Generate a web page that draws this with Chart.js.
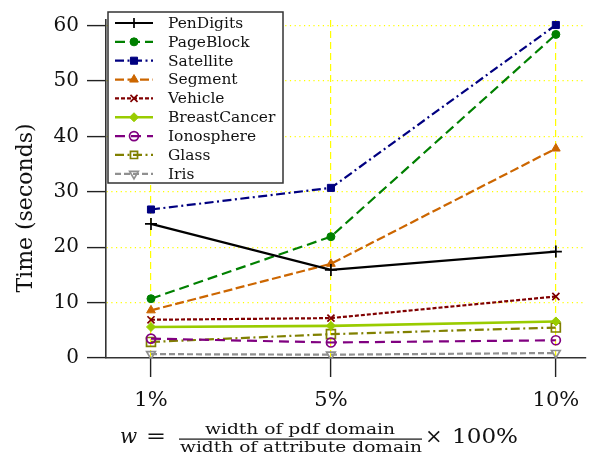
<!DOCTYPE html>
<html>
<head>
<meta charset="utf-8">
<script src="https://cdn.jsdelivr.net/npm/chart.js@4/dist/chart.umd.min.js"></script>
<style>
  html,body{margin:0;padding:0;background:#fff;}
  #wrap{width:596px;height:458px;position:relative;}
</style>
</head>
<body>
<div id="wrap"><canvas id="c"></canvas></div>
<script>
// x positions (percent) and their labels
const xValues = [1, 5, 10];
const xLabels = ['1%', '5%', '10%'];
const yTicks = [0, 10, 20, 30, 40, 50, 60];

// time in seconds, one value per x position
const penDigits    = [24.2, 15.9, 19.2];
const pageBlock    = [10.7, 21.9, 58.4];
const satellite    = [26.8, 30.7, 60.1];
const segment      = [8.6, 17.0, 37.8];
const vehicle      = [6.9, 7.2, 11.1];
const breastCancer = [5.6, 5.8, 6.6];
const ionosphere   = [3.5, 2.8, 3.2];
const glass        = [2.9, 4.3, 5.5];
const iris         = [0.7, 0.6, 0.9];

const serif = '"DejaVu Serif", "Liberation Serif", serif';

function pts(arr){ return arr.map((v,i)=>({x:xValues[i], y:v})); }

function ds(label, arr, color, dash, style, r, filled, rot){
  return {
    label, data: pts(arr),
    borderColor: color, borderWidth: 2.2, borderDash: dash,
    pointStyle: style, pointRadius: r, pointRotation: rot||0,
    pointBackgroundColor: filled ? color : 'rgba(0,0,0,0)',
    pointBorderColor: color, pointBorderWidth: filled ? 1 : 1.7,
    fill: false, tension: 0
  };
}

const datasets = [
  ds('PenDigits', penDigits, '#000000', [], 'cross', 6, false),
  ds('PageBlock', pageBlock, '#008000', [10,5], 'circle', 4, true),
  ds('Satellite', satellite, '#000080', [9,3.5,2,3.5], 'rect', 5, true),
  ds('Segment', segment, '#cc6600', [9,3.5], 'triangle', 5, true),
  ds('Vehicle', vehicle, '#800000', [4,2], 'crossRot', 5, false),
  ds('BreastCancer', breastCancer, '#99cc00', [], 'rectRot', 4.5, true),
  ds('Ionosphere', ionosphere, '#800080', [10,6], 'circle', 4.5, false),
  ds('Glass', glass, '#808000', [9,3.5,2,3.5], 'rect', 6.3, false),
  ds('Iris', iris, '#909090', [6,3], 'triangle', 5, false, 180)
];
datasets[5].borderWidth = 2.6;

// legend box, axis titles and the formula under the x axis
const extras = {
  id: 'extras',
  afterDraw(chart){
    const ctx = chart.ctx;
    // legend
    const bx = 108, by = 12, bw = 175, bh = 171, rowH = 18.85;
    ctx.save();
    ctx.fillStyle = '#fff';
    ctx.fillRect(bx, by, bw, bh);
    ctx.strokeStyle = '#333'; ctx.lineWidth = 1.5;
    ctx.strokeRect(bx, by, bw, bh);
    ctx.font = '15px ' + serif;
    ctx.textBaseline = 'middle';
    chart.data.datasets.forEach((d,i)=>{
      const y = by + 11 + i*rowH;
      ctx.strokeStyle = d.borderColor; ctx.lineWidth = d.borderWidth;
      ctx.setLineDash(d.borderDash);
      ctx.beginPath(); ctx.moveTo(115, y); ctx.lineTo(153, y); ctx.stroke();
      ctx.setLineDash([]);
      ctx.fillStyle = d.pointBackgroundColor; ctx.strokeStyle = d.pointBorderColor;
      ctx.lineWidth = d.pointBorderWidth;
      Chart.helpers.drawPoint(ctx, {pointStyle:d.pointStyle, radius:Math.min(d.pointRadius,5), rotation:d.pointRotation, borderWidth:d.pointBorderWidth}, 134, y);
      ctx.fillStyle = '#111';
      fitText(ctx, d.label, 168, y + 1, ctx.measureText(d.label).width * 1.03);
    });
    // y title
    ctx.translate(26, 208); ctx.rotate(-Math.PI/2);
    ctx.font = '22px ' + serif; ctx.textAlign = 'center'; ctx.fillStyle = '#111';
    ctx.fillText('Time (seconds)', 0, 0);
    ctx.restore();

    // x title: w = fraction × 100%
    ctx.save();
    ctx.fillStyle = '#111'; ctx.textBaseline = 'alphabetic';
    ctx.font = 'italic 20px ' + serif;
    ctx.fillText('w', 120, 443);
    ctx.font = '21px ' + serif;
    fitText(ctx, '=', 146, 443, 20);
    ctx.font = '15px ' + serif; ctx.textAlign = 'center';
    fitText(ctx, 'width of pdf domain', 300, 434, 190);
    fitText(ctx, 'width of attribute domain', 301, 452, 242);
    ctx.fillRect(179, 438.5, 243, 1.2);
    ctx.textAlign = 'left';
    ctx.font = '21px ' + serif;
    ctx.fillText('×', 425, 443);
    fitText(ctx, '100%', 452, 443, 66);
    ctx.restore();
  }
};

function fitText(ctx, txt, x, y, w){
  const m = ctx.measureText(txt).width;
  ctx.save();
  ctx.translate(x, y); ctx.scale(w/m, 1);
  ctx.fillText(txt, 0, 0);
  ctx.restore();
}

new Chart(document.getElementById('c'), {
  type: 'line',
  data: { datasets },
  options: {
    responsive: true, maintainAspectRatio: false, animation: false,
    layout: { padding: { top: 12, right: 10, left: 0, bottom: 0 } },
    plugins: { legend: { display: false }, tooltip: { enabled: false } },
    scales: {
      x: {
        type: 'linear', min: 0, max: 10.67,
        afterBuildTicks: s => { s.ticks = xValues.map(v=>({value:v})); },
        afterFit: s => { s.height = 100; },
        ticks: { font: { family: serif, size: 21 }, color: '#111', padding: 11,
                 callback: v => xLabels[xValues.indexOf(v)] },
        grid: { color: '#ffff00', lineWidth: 1.2, tickColor: '#222', tickWidth: 1.4, tickLength: 19 },
        border: { color: '#333', width: 1.6, dash: [7,4] }
      },
      y: {
        min: 0, max: 61,
        afterBuildTicks: s => { s.ticks = yTicks.map(v=>({value:v})); },
        afterFit: s => { s.width = 106; },
        ticks: { font: { family: serif, size: 20 }, color: '#111', padding: 8 },
        grid: { color: c => (c.tick && c.tick.value === 0) ? 'rgba(0,0,0,0)' : '#ffff00',
                lineWidth: 1.2, tickColor: '#222', tickWidth: 1.4, tickLength: 19 },
        border: { color: '#333', width: 1.6, dash: [1.2,3.5] }
      }
    }
  },
  plugins: [extras]
});
</script>
</body>
</html>
